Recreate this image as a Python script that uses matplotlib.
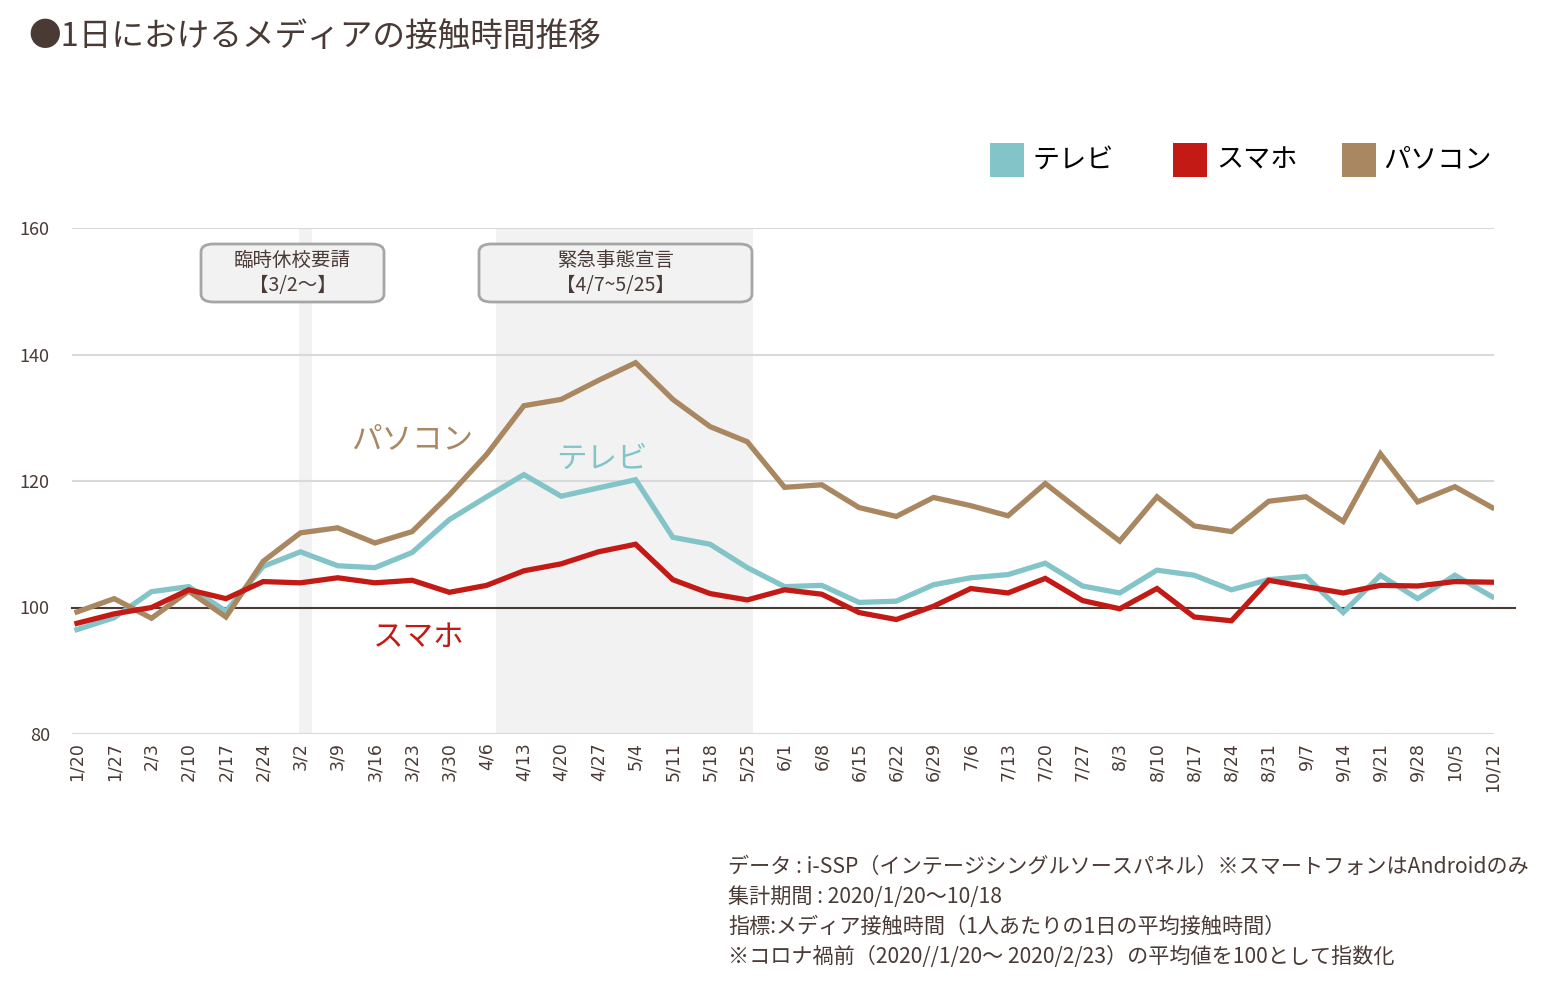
import numpy as np
import matplotlib
matplotlib.use("Agg")
import matplotlib.pyplot as plt
from matplotlib.patches import FancyBboxPatch, Rectangle
from matplotlib.lines import Line2D

plt.rcParams["font.family"] = ["Noto Sans CJK JP", "DejaVu Sans"]

weeks = ["1/20", "1/27", "2/3", "2/10", "2/17", "2/24", "3/2", "3/9", "3/16",
         "3/23", "3/30", "4/6", "4/13", "4/20", "4/27", "5/4", "5/11", "5/18",
         "5/25", "6/1", "6/8", "6/15", "6/22", "6/29", "7/6", "7/13", "7/20",
         "7/27", "8/3", "8/10", "8/17", "8/24", "8/31", "9/7", "9/14", "9/21",
         "9/28", "10/5", "10/12"]
tv = [96.5, 98.4, 102.5, 103.3, 99.4, 106.5, 108.8, 106.6, 106.3, 108.7,
      113.9, 117.5, 121.0, 117.6, 118.9, 120.2, 111.1, 110.0, 106.3, 103.3,
      103.5, 100.8, 101.0, 103.6, 104.7, 105.2, 107.0, 103.4, 102.3, 105.9,
      105.1, 102.8, 104.4, 104.9, 99.2, 105.1, 101.4, 105.1, 101.7]
phone = [97.5, 99.0, 100.0, 102.8, 101.4, 104.1, 103.9, 104.7, 103.9, 104.3,
         102.4, 103.5, 105.8, 106.9, 108.8, 110.0, 104.4, 102.2, 101.2, 102.8,
         102.1, 99.2, 98.1, 100.2, 103.0, 102.3, 104.6, 101.1, 99.8, 103.0,
         98.5, 97.9, 104.3, 103.3, 102.3, 103.5, 103.4, 104.1, 104.0]
pc = [99.3, 101.4, 98.3, 102.6, 98.5, 107.3, 111.8, 112.6, 110.2, 112.0,
      117.8, 124.2, 131.9, 132.9, 135.9, 138.7, 132.9, 128.6, 126.2, 119.0,
      119.4, 115.8, 114.4, 117.4, 116.1, 114.5, 119.6, 115.0, 110.5, 117.5,
      112.9, 112.0, 116.8, 117.5, 113.6, 124.3, 116.7, 119.1, 115.8]
series = ["テレビ", "スマホ", "パソコン"]
yticks = [80, 100, 120, 140, 160]

C_TV, C_PH, C_PC = "#82c4c8", "#c41a16", "#a98760"
TXT = "#4a3a35"

fig = plt.figure(figsize=(15.59, 9.86), dpi=100)
ax = fig.add_axes([72 / 1559, 1 - 734 / 986, (1494 - 72) / 1559, 506 / 986])
x = np.arange(len(weeks))

# shaded periods
ax.axvspan(5.95, 6.3, color="#f2f2f2", lw=0, zorder=0)
ax.axvspan(11.25, 18.14, color="#f2f2f2", lw=0, zorder=0)

for v in yticks:
    if v != 100:
        ax.axhline(v, color="#d9d9d9", lw=1.5, zorder=1)
ax.add_line(Line2D([0, 1.015], [100, 100], transform=ax.get_yaxis_transform(),
                   color=TXT, lw=1.5, clip_on=False, zorder=2))

ax.plot(x, tv, color=C_TV, lw=3.8, zorder=3, solid_joinstyle="miter")
ax.plot(x, pc, color=C_PC, lw=3.8, zorder=3, solid_joinstyle="miter")
ax.plot(x, phone, color=C_PH, lw=3.8, zorder=4, solid_joinstyle="miter")

ax.set_xlim(-0.134, 38.05)
ax.set_ylim(80, 160)
ax.set_yticks(yticks)
ax.set_xticks(x)
ax.set_xticklabels(weeks, rotation=90, family="DejaVu Sans", fontsize=12.5,
                   color=TXT)
ax.tick_params(axis="y", labelsize=13, labelcolor=TXT, length=0, pad=16)
ax.tick_params(axis="x", length=0, pad=6)
for s in ax.spines.values():
    s.set_visible(False)

# in-chart series labels
ax.text(9.0, 126.6, "パソコン", color=C_PC, fontsize=22, ha="center", va="center")
ax.text(14.1, 123.4, "テレビ", color=C_TV, fontsize=22, ha="center", va="center")
ax.text(9.18, 95.3, "スマホ", color=C_PH, fontsize=22, ha="center", va="center")

# boxed notes
def note(x0, x1, text):
    fx0, fx1 = x0 / 1559, x1 / 1559
    y0, y1 = 1 - 302 / 986, 1 - 244 / 986
    fig.patches.append(FancyBboxPatch((fx0, y0), fx1 - fx0, y1 - y0,
                                      boxstyle="round,pad=0,rounding_size=0.008",
                                      transform=fig.transFigure, fc="#f2f2f2",
                                      ec="#a6a6a6", lw=2, zorder=5))
    fig.text((fx0 + fx1) / 2, (y0 + y1) / 2, text, ha="center", va="center",
             fontsize=14, color=TXT, linespacing=1.2, zorder=6)

note(201, 384, "臨時休校要請\n【3/2〜】")
note(479, 752, "緊急事態宣言\n【4/7~5/25】")

# legend
for (px, tx), name, c in zip([(990, 1032), (1173, 1216), (1342, 1383)],
                             series, [C_TV, C_PH, C_PC]):
    fig.patches.append(Rectangle((px / 1559, 1 - 177 / 986), 34 / 1559, 34 / 986,
                                 transform=fig.transFigure, fc=c, ec="none"))
    fig.text(tx / 1559, 1 - 160 / 986, name, fontsize=19.5, color="black",
             va="center", ha="left")

fig.text(28 / 1559, 1 - 37 / 986, "●1日におけるメディアの接触時間推移",
         fontsize=23.5, color=TXT, va="center", ha="left")

notes = ["データ : i-SSP（インテージシングルソースパネル）※スマートフォンはAndroidのみ",
         "集計期間 : 2020/1/20〜10/18",
         "指標:メディア接触時間（1人あたりの1日の平均接触時間）",
         "※コロナ禍前（2020//1/20〜 2020/2/23）の平均値を100として指数化"]
for i, line in enumerate(notes):
    fig.text(728 / 1559, 1 - (867 + 30 * i) / 986, line, fontsize=15.2,
             color=TXT, va="center", ha="left")

fig.savefig("out.png", dpi=100)
